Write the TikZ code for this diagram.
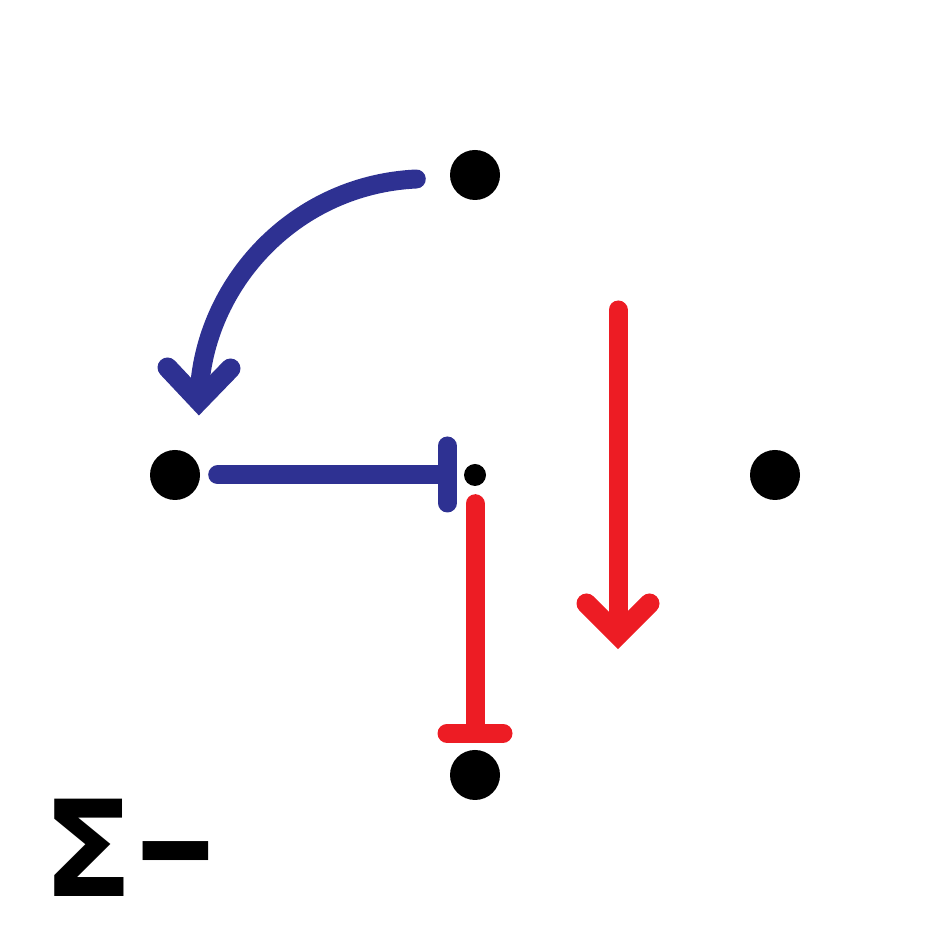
\documentclass[tikz,border=0pt]{standalone}
\usepackage{fontspec}
\newfontfamily\labelfont{DejaVu Sans}
\usetikzlibrary{positioning}
\definecolor{actblue}{RGB}{46,49,146}
\definecolor{inhred}{RGB}{237,28,36}
\tikzset{
  site/.style={circle, fill=black, inner sep=0pt, minimum size=0.5cm},
  hub/.style={circle, fill=black, inner sep=0pt, minimum size=0.22cm},
  link/.style={line width=0.19cm, line cap=round},
  chevron/.style={line width=0.2cm, line cap=round, line join=miter},
}
\begin{document}
\begin{tikzpicture}[node distance=3cm]
\useasboundingbox (0,0) rectangle (9.5,9.5);

\node (hub) [hub] at (4.75,4.75) {};
\node (top) [site, above of=hub] {};
\node (left) [site, left of=hub] {};
\node (right) [site, right of=hub] {};
\node (bottom) [site, below of=hub] {};

\coordinate (bstart) at ([xshift=-0.33cm,yshift=-0.04cm]top.west);
\coordinate (btip) at (1.99,5.49);
\coordinate (rstart) at (6.18,6.40);
\coordinate (rtip) at (6.18,3.15);

\draw[link, actblue] (bstart) .. controls (2.9,7.65) and (2.0,6.6) .. (btip);
\draw[chevron, actblue] (1.675,5.825) -- (btip) -- (2.305,5.815);

\draw[link, actblue] ([xshift=0.17cm]left.east) -- ([xshift=-0.16cm]hub.west) coordinate (bstop);
\draw[link, actblue] ([yshift=0.29cm]bstop) -- ([yshift=-0.28cm]bstop);

\draw[link, inhred] ([yshift=-0.17cm]hub.south) -- ([yshift=0.16cm]bottom.north) coordinate (rstop);
\draw[link, inhred] ([xshift=-0.28cm]rstop) -- ([xshift=0.28cm]rstop);

\draw[link, inhred] (rstart) -- (rtip);
\draw[chevron, inhred] (5.865,3.465) -- (rtip) -- (6.495,3.465);

\node (charge) [anchor=base west, inner sep=0pt] at (0.42,0.53) {\labelfont\bfseries\fontsize{38}{40}\selectfont Σ\hspace{-0.02cm}\raisebox{0.07cm}{\scalebox{1.6}[1]{-}}};

\end{tikzpicture}
\end{document}
